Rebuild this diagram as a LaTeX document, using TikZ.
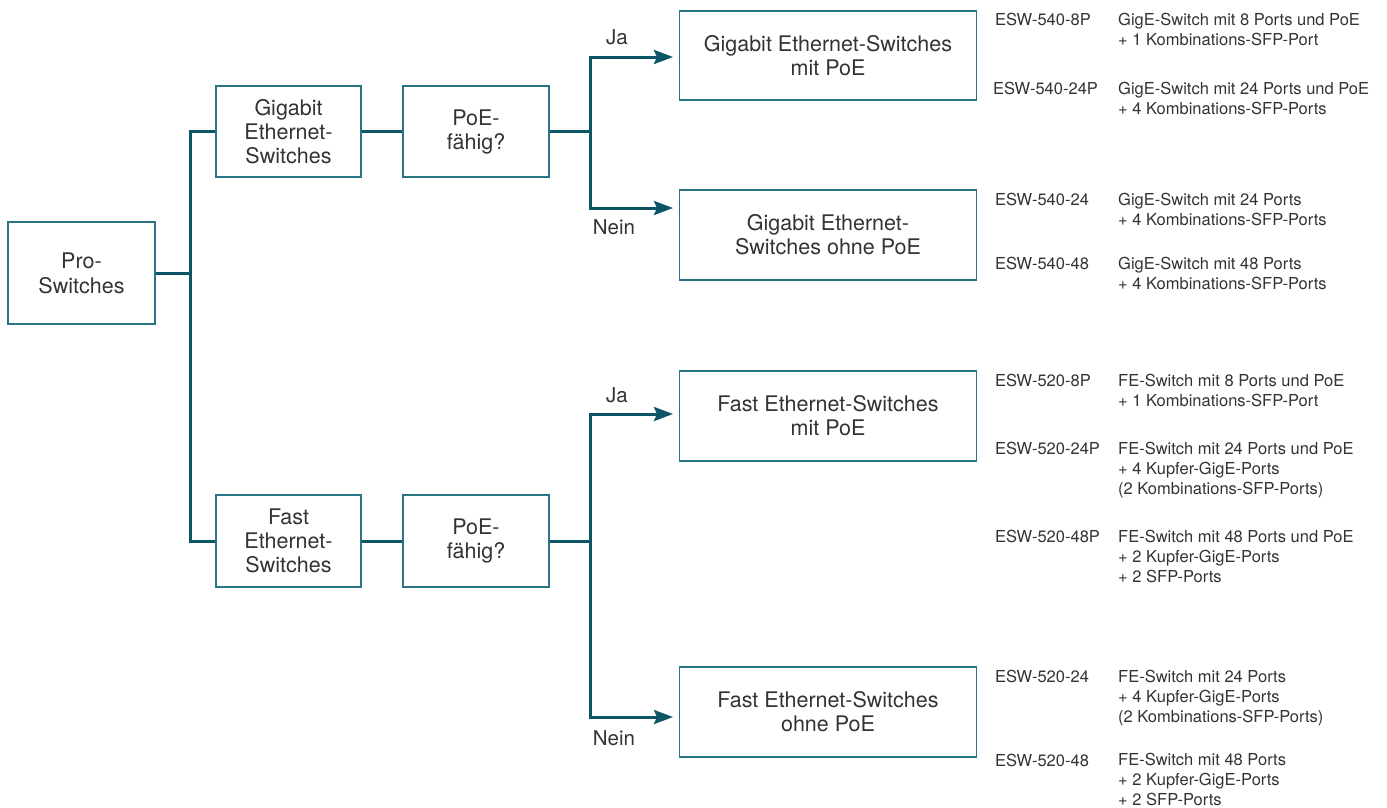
\documentclass[tikz,border=0pt]{standalone}
\usepackage{fontspec}
\setmainfont{TeX Gyre Heros}
\usetikzlibrary{arrows.meta}
\definecolor{connc}{HTML}{0B5567}
\definecolor{boxc}{HTML}{2A7485}
\definecolor{txt}{HTML}{333333}
\begin{document}
\begin{tikzpicture}[x=1pt,y=-1pt,
 box/.style={draw=boxc, line width=1.4pt, inner sep=0pt, align=center, text=txt, font=\fontsize{21.5}{24}\selectfont},
 conn/.style={draw=connc, line width=3pt, line join=miter},
 arr/.style={conn, -{Stealth[length=19pt,width=14pt,inset=3pt]}},
 lab/.style={text=txt, font=\fontsize{20.5}{23}\selectfont, inner sep=0pt},
 model/.style={anchor=base west, inner sep=0pt, text=txt, align=left, font=\fontsize{16.5}{20}\selectfont}]
\useasboundingbox (0,0) rectangle (1387,807);
% boxes
\node[box, minimum width=147pt, minimum height=102pt] (pro) at (81.5,273) {Pro-\\[1pt]Switches};
\node[box, minimum width=145pt, minimum height=91pt] (gig) at (288.5,131.5) {Gigabit\\Ethernet-\\Switches};
\node[box, minimum width=146pt, minimum height=91pt] (poe1) at (476,131.5) {PoE-\\fähig?};
\node[box, minimum width=145pt, minimum height=92pt] (fast) at (288.5,541) {Fast\\Ethernet-\\Switches};
\node[box, minimum width=146pt, minimum height=92pt] (poe2) at (476,541) {PoE-\\fähig?};
\node[box, minimum width=297pt, minimum height=89pt] (gmit) at (828,55.5) {Gigabit Ethernet-Switches\\mit PoE};
\node[box, minimum width=297pt, minimum height=90pt] (gohne) at (828,235) {Gigabit Ethernet-\\Switches ohne PoE};
\node[box, minimum width=297pt, minimum height=90pt] (fmit) at (828,416) {Fast Ethernet-Switches\\mit PoE};
\node[box, minimum width=297pt, minimum height=90pt] (fohne) at (828,712) {Fast Ethernet-Switches\\ohne PoE};
% connectors
\coordinate (j0) at (190,273);
\draw[conn] (pro.east) -- (j0);
\draw[conn] (gig.west) -| (j0) |- (fast.west);
\draw[conn] (gig.east) -- (poe1.west);
\draw[conn] (fast.east) -- (poe2.west);
\coordinate (j1) at (590,131.5);
\coordinate (a1) at (673,57);
\coordinate (a2) at (673,208);
\draw[conn] (poe1.east) -- (j1);
\draw[arr] (j1) |- (a1);
\draw[arr] (j1) |- (a2);
\coordinate (j2) at (590,541);
\coordinate (a3) at (673,414);
\coordinate (a4) at (673,717);
\draw[conn] (poe2.east) -- (j2);
\draw[arr] (j2) |- (a3);
\draw[arr] (j2) |- (a4);
% labels
\node[lab] (ja1) at (617,37) {Ja};
\node[lab] (nein1) at (614,227) {Nein};
\node[lab] (ja2) at (617,395) {Ja};
\node[lab] (nein2) at (614,738) {Nein};
% model list (base anchor = baseline of last line)
\node[model] (m1) at (995,25) {ESW-540-8P};
\node[model] (d1) at (1118,45) {GigE-Switch mit 8 Ports und PoE\\+ 1 Kombinations-SFP-Port};
\node[model] (m2) at (993,94) {ESW-540-24P};
\node[model] (d2) at (1118,114) {GigE-Switch mit 24 Ports und PoE\\+ 4 Kombinations-SFP-Ports};
\node[model] (m3) at (995,205) {ESW-540-24};
\node[model] (d3) at (1118,225) {GigE-Switch mit 24 Ports\\+ 4 Kombinations-SFP-Ports};
\node[model] (m4) at (995,269) {ESW-540-48};
\node[model] (d4) at (1118,289) {GigE-Switch mit 48 Ports\\+ 4 Kombinations-SFP-Ports};
\node[model] (m5) at (995,386) {ESW-520-8P};
\node[model] (d5) at (1118,406) {FE-Switch mit 8 Ports und PoE\\+ 1 Kombinations-SFP-Port};
\node[model] (m6) at (995,454) {ESW-520-24P};
\node[model] (d6) at (1118,494) {FE-Switch mit 24 Ports und PoE\\+ 4 Kupfer-GigE-Ports\\(2 Kombinations-SFP-Ports)};
\node[model] (m7) at (995,542) {ESW-520-48P};
\node[model] (d7) at (1118,582) {FE-Switch mit 48 Ports und PoE\\+ 2 Kupfer-GigE-Ports\\+ 2 SFP-Ports};
\node[model] (m8) at (995,682) {ESW-520-24};
\node[model] (d8) at (1118,722) {FE-Switch mit 24 Ports\\+ 4 Kupfer-GigE-Ports\\(2 Kombinations-SFP-Ports)};
\node[model] (m9) at (995,766) {ESW-520-48};
\node[model] (d9) at (1118,805) {FE-Switch mit 48 Ports\\+ 2 Kupfer-GigE-Ports\\+ 2 SFP-Ports};
\end{tikzpicture}
\end{document}
